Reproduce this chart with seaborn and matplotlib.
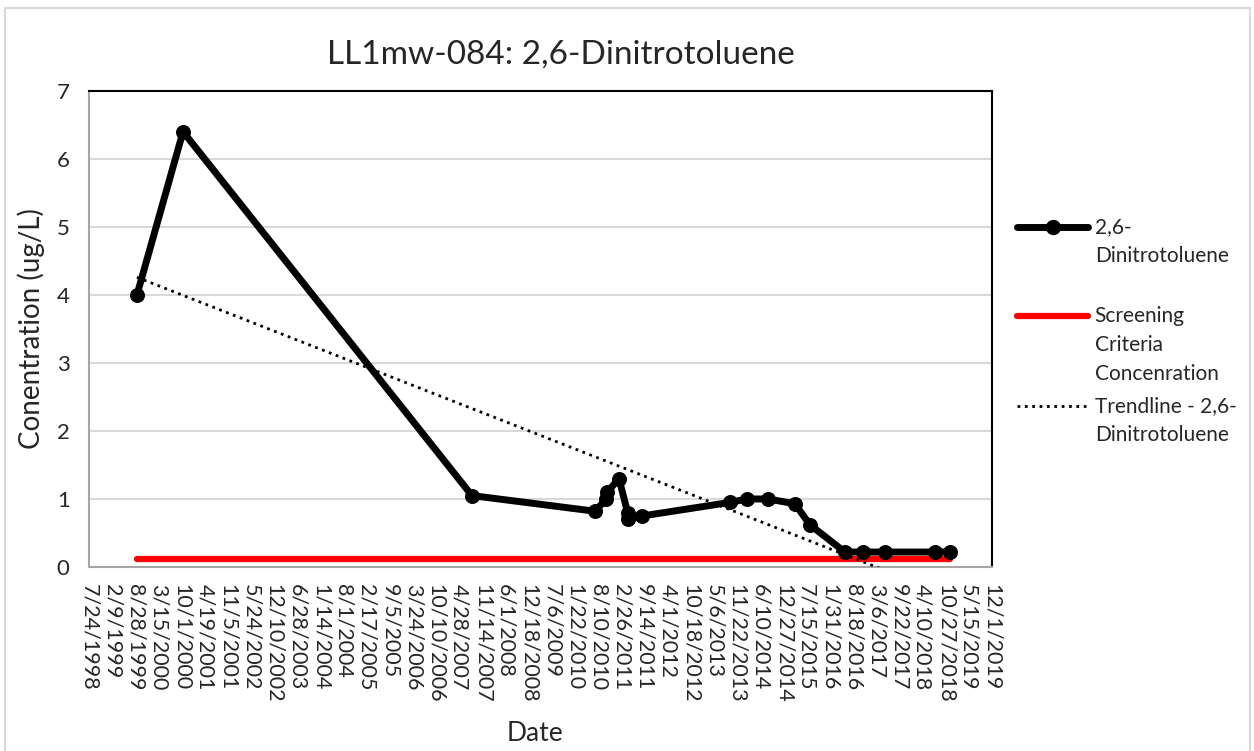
import matplotlib
matplotlib.use("Agg")
import matplotlib.pyplot as plt
import matplotlib.dates as mdates
from matplotlib.lines import Line2D
from matplotlib.patches import Rectangle
import numpy as np
import pandas as pd
import seaborn as sns

# Sample dates and 2,6-DNT concentrations (ug/L)
sample_dates = [
    "1999-09-11", "2000-10-13", "2007-08-14", "2010-07-12", "2010-10-18",
    "2010-10-26", "2011-02-04", "2011-04-20", "2011-04-27", "2011-08-22",
    "2013-09-20", "2014-02-14", "2014-08-14", "2015-04-04", "2015-08-12",
    "2016-06-09", "2016-11-12", "2017-05-21", "2018-07-27", "2018-12-04",
]
dnt_values = [
    4.0, 6.4, 1.05, 0.82, 1.0,
    1.1, 1.3, 0.8, 0.7, 0.75,
    0.95, 1.0, 1.0, 0.93, 0.62,
    0.22, 0.22, 0.22, 0.22, 0.22,
]
screening_level = 0.12

title = "LL1mw-084: 2,6-Dinitrotoluene"
axis_start = "1998-07-24"
axis_end = "2019-12-01"
tick_step_days = 200

legend_labels = [
    ["2,6-", "Dinitrotoluene"],
    ["Screening", "Criteria", "Concenration"],
    ["Trendline - 2,6-", "Dinitrotoluene"],
]

df = pd.DataFrame({"Date": pd.to_datetime(sample_dates), "Conc": dnt_values})

# Screening criteria spans the sampling period
crit = pd.DataFrame({
    "Date": [df["Date"].min(), df["Date"].max()],
    "Conc": [screening_level, screening_level],
})

# Linear trendline (like Excel) over the sampled dates
xnum = mdates.date2num(df["Date"])
slope, intercept = np.polyfit(xnum, df["Conc"], 1)
trend = pd.DataFrame({
    "Date": crit["Date"],
    "Conc": slope * mdates.date2num(crit["Date"]) + intercept,
})

sns.set_theme(style="white")
plt.rcParams["font.family"] = ["Lato", "DejaVu Sans"]

fig = plt.figure(figsize=(12.54, 7.51), dpi=100)
ax = fig.add_axes([0.071, 0.245, 0.72, 0.634])

ax.yaxis.grid(True, color="#d9d9d9", linewidth=1.5)
ax.set_axisbelow(True)

sns.lineplot(data=crit, x="Date", y="Conc", ax=ax, color="#ff0000",
             linewidth=4.5, zorder=2)
sns.lineplot(data=trend, x="Date", y="Conc", ax=ax, color="black",
             linewidth=2, linestyle=":", zorder=3)
sns.lineplot(data=df, x="Date", y="Conc", ax=ax, color="black", linewidth=5,
             marker="o", markersize=10, markeredgecolor="black", zorder=4)

ax.set_ylim(0, 7)
ax.set_yticks(range(0, 8))
ticks = pd.date_range(axis_start, axis_end, freq=f"{tick_step_days}D")
ax.set_xlim(pd.Timestamp(axis_start), pd.Timestamp(axis_end))
ax.set_xticks(ticks)
ax.set_xticklabels([f"{d.month}/{d.day}/{d.year}" for d in ticks],
                   rotation=-90, fontsize=15.5)
ax.tick_params(axis="y", labelsize=16, pad=8)
ax.tick_params(axis="x", pad=6)

ax.set_xlabel("Date", fontsize=19)
ax.xaxis.label.set_va("center")
ax.xaxis.set_label_coords(0.494, -0.349)
ax.set_ylabel("Conentration (ug/L)", fontsize=20)
ax.yaxis.label.set_va("center")
ax.yaxis.set_label_coords(-0.064, 0.5)
fig.text(0.447, 0.927, title, fontsize=24, ha="center", va="center")

for side in ["top", "right"]:
    ax.spines[side].set_color("black")
    ax.spines[side].set_linewidth(1.5)
for side in ["left", "bottom"]:
    ax.spines[side].set_color("#a6a6a6")
    ax.spines[side].set_linewidth(1.5)

# Legend drawn like Excel: handle beside first line, fixed row height
handles = [
    dict(color="black", linewidth=5),
    dict(color="#ff0000", linewidth=4.5),
    dict(color="black", linewidth=2, linestyle=":"),
]
row_y = [0.698, 0.579, 0.459]
line_step = 0.0386
for k, (style, lines, y) in enumerate(zip(handles, legend_labels, row_y)):
    fig.add_artist(Line2D([0.811, 0.868], [y, y], transform=fig.transFigure,
                          **style))
    if k == 0:
        fig.add_artist(Line2D([0.8395], [y], transform=fig.transFigure,
                              color="black", marker="o", markersize=10,
                              linestyle="none"))
    for i, txt in enumerate(lines):
        fig.text(0.873, y - i * line_step, txt, fontsize=15, va="center",
                 ha="left")

# Chart area border
fig.patches.append(Rectangle((0.004, -0.01), 0.993, 1.0, transform=fig.transFigure,
                             fill=False, edgecolor="#d9d9d9", linewidth=1.5))

fig.savefig("out.png", dpi=100)
